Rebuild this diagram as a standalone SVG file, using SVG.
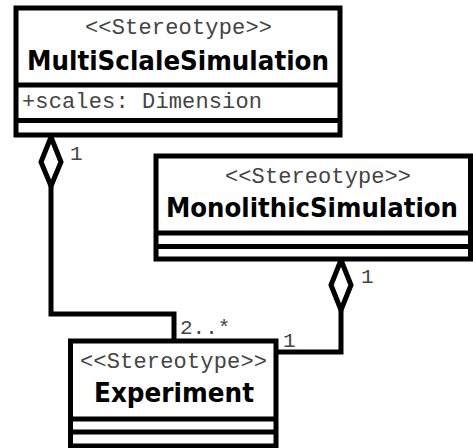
<svg xmlns="http://www.w3.org/2000/svg" width="473" height="448" viewBox="0 0 473 448">
<style>
.box{fill:#fff;stroke:#000;stroke-width:5}
.sep{stroke:#000;stroke-width:5}
.st{font-family:"Liberation Mono","Courier New",monospace;font-size:22px;fill:#444;text-anchor:middle}
.nm{font-family:"DejaVu Sans",Verdana,sans-serif;font-weight:bold;font-size:27px;fill:#000;text-anchor:middle}
.at{font-family:"Liberation Mono","Courier New",monospace;font-size:22px;fill:#444}
.ml{font-family:"Liberation Mono","Courier New",monospace;font-size:21px;fill:#444}
.ln{fill:none;stroke:#000;stroke-width:5}
.dm{fill:#fff;stroke:#000;stroke-width:5;stroke-linejoin:miter}
</style>
<rect width="473" height="448" fill="#fff"/>
<g id="connectors">
<path class="ln" d="M51,186 V314 H174 V341"/>
<path class="ln" d="M341,310 V352 H276"/>
<polygon class="dm" points="51,137 61,162 51,186 41,162"/>
<polygon class="dm" points="341,260 351,285 341,310 331,285"/>
<text class="ml" x="70" y="160">1</text>
<text class="ml" x="180" y="334">2..*</text>
<text class="ml" x="283" y="347">1</text>
<text class="ml" x="361" y="283">1</text>
</g>
<g id="MultiSclaleSimulation">
<rect class="box" x="16" y="8" width="324" height="127"/>
<line class="sep" x1="16" y1="85" x2="340" y2="85"/>
<line class="sep" x1="16" y1="120.5" x2="340" y2="120.5"/>
<text class="st" x="178.5" y="34" textLength="187">&lt;&lt;Stereotype&gt;&gt;</text>
<text class="nm" x="178" y="70" textLength="302" lengthAdjust="spacingAndGlyphs">MultiSclaleSimulation</text>
<text class="at" x="22" y="108" textLength="240">+scales: Dimension</text>
</g>
<g id="MonolithicSimulation">
<rect class="box" x="156" y="156" width="314.5" height="103"/>
<line class="sep" x1="156" y1="233" x2="470.5" y2="233"/>
<line class="sep" x1="156" y1="246.5" x2="470.5" y2="246.5"/>
<text class="st" x="318" y="183" textLength="186">&lt;&lt;Stereotype&gt;&gt;</text>
<text class="nm" x="312" y="217" textLength="292" lengthAdjust="spacingAndGlyphs">MonolithicSimulation</text>
</g>
<g id="Experiment">
<rect class="box" x="70.5" y="341" width="205.5" height="105"/>
<line class="sep" x1="70.5" y1="419" x2="276" y2="419"/>
<line class="sep" x1="70.5" y1="432" x2="276" y2="432"/>
<text class="st" x="173.5" y="368" textLength="187">&lt;&lt;Stereotype&gt;&gt;</text>
<text class="nm" x="174" y="402" textLength="160" lengthAdjust="spacingAndGlyphs">Experiment</text>
</g>
</svg>
